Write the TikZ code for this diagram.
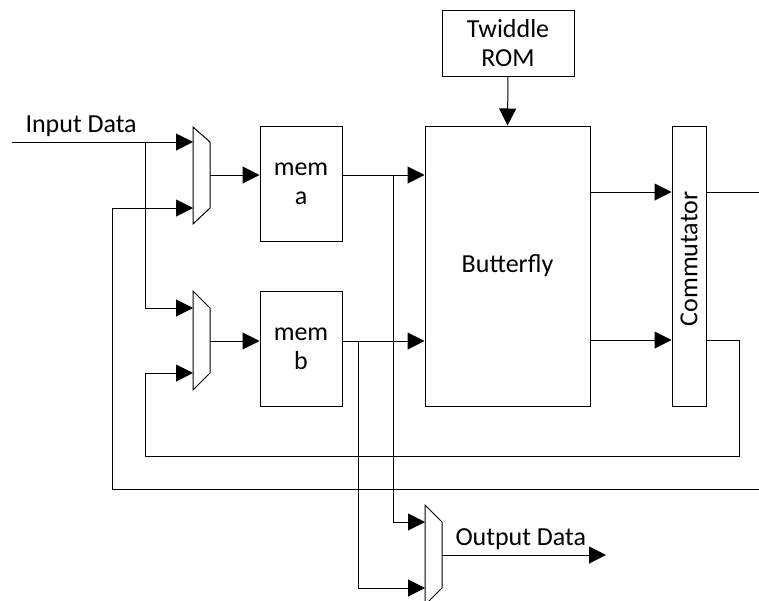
\documentclass[tikz,border=0pt]{standalone}
\usepackage{fontspec}
\setmainfont{Carlito}
\usetikzlibrary{arrows.meta}
\begin{document}
\begin{tikzpicture}[x=1pt,y=-1pt,line width=1pt,
  blk/.style={draw,fill=white,inner sep=0pt,font=\fontsize{26}{29}\selectfont,align=center},
  arr/.style={-{Triangle[length=17pt,width=17pt]}},
  lbl/.style={font=\fontsize{26}{29}\selectfont,inner sep=0pt}]
\useasboundingbox (0,0) rectangle (759,600);
\clip (0,0) rectangle (759,600);
% blocks
\node[blk,minimum width=82pt,minimum height=115pt] (memA) at (301,183.5) {mem\\a};
\node[blk,minimum width=82pt,minimum height=115pt] (memB) at (301,348.5) {mem\\b};
\node[blk,minimum width=165pt,minimum height=280pt] (bf) at (507.5,266) {Butterfly};
\node[blk,minimum width=34pt,minimum height=280pt] (comm) at (689,266) {};
\node[lbl,rotate=90] (commt) at (689,259) {Commutator};
\node[blk,minimum width=132pt,minimum height=66pt] (rom) at (508,43) {Twiddle\\ROM};
% muxes
\draw (193,127)--(210,142)--(210,208)--(193,224)--cycle;
\draw (193,291)--(210,308)--(210,373)--(193,390)--cycle;
\draw (425,505)--(442,522)--(442,588)--(425,605)--cycle;
\coordinate (m1in1) at (193,142);
\coordinate (m1in2) at (193,208);
\coordinate (m1out) at (210,175);
\coordinate (m2in1) at (193,308);
\coordinate (m2in2) at (193,373);
\coordinate (m2out) at (210,341);
\coordinate (m3in1) at (425,522);
\coordinate (m3in2) at (425,588);
\coordinate (m3out) at (442,555);
% free ends / junctions
\coordinate (inStart) at (12,142);
\coordinate (j1) at (145,142);
\coordinate (jA) at (393,175);
\coordinate (jB) at (358,341);
\coordinate (outTop) at (759,192);
\coordinate (longR) at (759,489);
\coordinate (fbR) at (739,340);
\coordinate (outEnd) at (606,555);
% labels
\node[lbl,anchor=south west] (inlbl) at (25,137) {Input Data};
\node[lbl,anchor=south west] (outlbl) at (455,550) {Output Data};
% connectors
\draw[arr] (inStart) -- (m1in1);
\draw[arr] (j1) |- (m2in1);
\draw[arr] (longR) -| (112,208) -- (m1in2);
\draw[arr] (comm.east |- fbR) -- (fbR) |- (145,456) |- (m2in2);
\draw[arr] (m1out) -- (m1out -| memA.west);
\draw[arr] (m2out) -- (m2out -| memB.west);
\draw[arr] (memA.east |- jA) -- (jA -| bf.west);
\draw[arr] (memB.east |- jB) -- (jB -| bf.west);
\draw[arr] (jA) |- (m3in1);
\draw[arr] (jB) |- (m3in2);
\draw[arr] (bf.east |- outTop) -- (outTop -| comm.west);
\draw[arr] (bf.east |- fbR) -- (fbR -| comm.west);
\draw (comm.east |- outTop) -- (outTop);
\draw[arr] (rom.south) -- (bf.north);
\draw[arr] (m3out) -- (outEnd);
\end{tikzpicture}
\end{document}
